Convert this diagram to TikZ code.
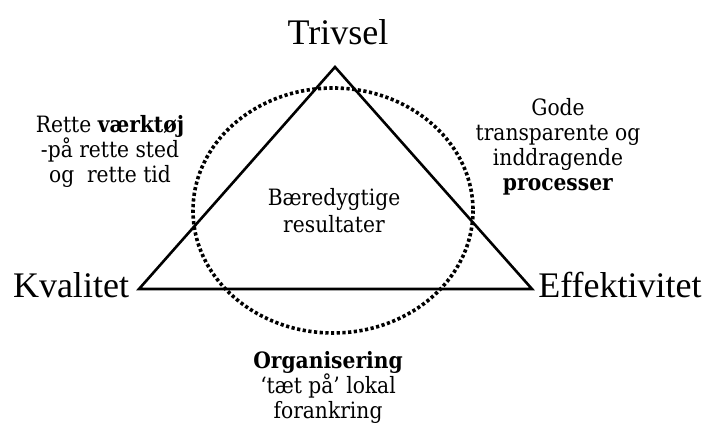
\documentclass[tikz,border=0pt]{standalone}
\usepackage{fontspec}
\setmainfont{Liberation Serif}
\newfontfamily\smallserif{DejaVu Serif Condensed}
\begin{document}
\begin{tikzpicture}[x=1pt,y=-1pt,
  bigtxt/.style={font=\fontsize{36}{40}\selectfont, inner sep=0pt, anchor=base},
  smalltxt/.style={font=\smallserif\fontsize{22.5}{25}\selectfont, align=center, inner sep=0pt, anchor=base},
  tri/.style={line width=2.6pt, line join=miter},
  dotring/.style={line width=3.6pt, dash pattern=on 3.2pt off 2.5pt}]
\useasboundingbox (0,0) rectangle (713,423);
\coordinate (top) at (335,67);
\coordinate (left) at (139,289);
\coordinate (right) at (532,289);
\draw[tri] (top) -- (right) -- (left) -- cycle;
\draw[dotring] (333,210.5) ellipse [x radius=140, y radius=122.5];
\node[bigtxt] (trivsel) at (338,44) {Trivsel};
\node[bigtxt] (kval) at (71,297) {Kvalitet};
\node[bigtxt] (eff) at (620,297) {Effektivitet};
\node[smalltxt, font=\smallserif\fontsize{22.5}{27}\selectfont] (center) at (334,232) {Bæredygtige\\resultater};
\node[smalltxt] (lefttxt) at (110,182) {Rette \textbf{værktøj}\\-på rette sted\\og\ \ rette tid};
\node[smalltxt] (righttxt) at (558,190) {Gode\\transparente og\\inddragende\\\textbf{processer}};
\node[smalltxt] (bottom) at (328,418) {\textbf{Organisering}\\‘tæt på’ lokal\\forankring};
\end{tikzpicture}
\end{document}
